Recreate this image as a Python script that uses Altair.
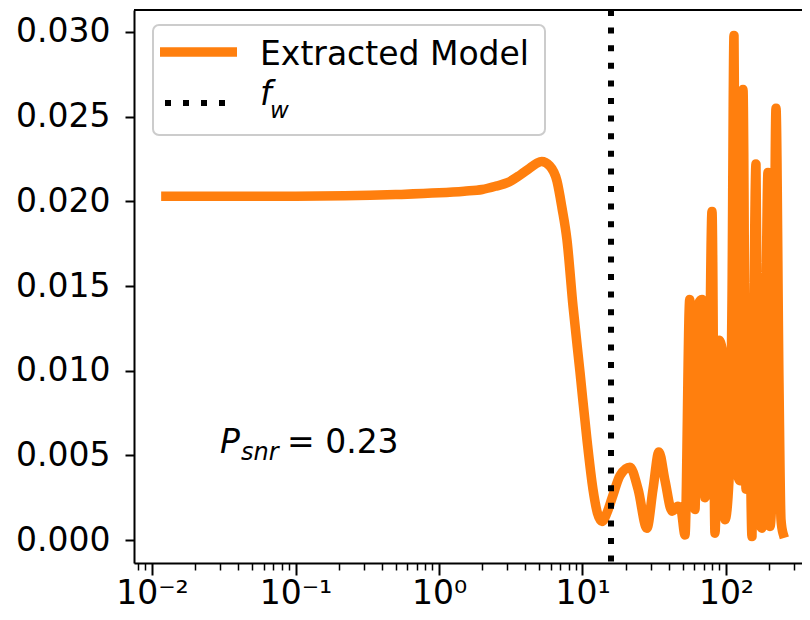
import altair as alt
import pandas as pd

# ---- data ----
freq = [0.0125, 0.1, 0.5, 1.0, 1.5, 2.0, 2.5, 3.0, 3.67, 4.2, 4.8, 5.2,
        5.9, 6.64, 7.2, 7.8, 8.59, 9.61, 10.75, 11.83, 12.7, 13.67, 14.8, 16.1, 18.25,
        21.4, 24.4, 28.1, 31.0, 34.1, 37.6, 42.1, 46.3, 48.6, 51.8, 55.9, 58.9, 60.8,
        63.8, 68.0, 71.4, 74.9, 79.9, 83.8, 89.4, 93.8, 98.4, 104.9, 110.1, 113.7,
        119.3, 125.2, 131.4, 137.9, 144.6, 151.8, 156.7, 161.8, 169.8, 178.2, 187.0,
        196.2, 202.6, 212.6, 223.1, 234.1, 241.7, 249.6]
amp = [0.0203, 0.0203, 0.0204, 0.0205, 0.0206, 0.0207, 0.0209, 0.0211,
       0.02155, 0.0219, 0.02225, 0.02235, 0.0221, 0.0212, 0.0196, 0.0177, 0.0138,
       0.0099, 0.0059, 0.0030, 0.0016, 0.0011, 0.0016, 0.0025, 0.0038, 0.0043, 0.0030,
       0.0007, 0.0030, 0.0052, 0.0035, 0.0017, 0.0020, 0.0018, 0.0003, 0.0142, 0.0065,
       0.0018, 0.0139, 0.0142, 0.0025, 0.0035, 0.0194, 0.0004, 0.0118, 0.0113, 0.0012,
       0.0035, 0.0142, 0.0298, 0.0041, 0.0035, 0.0266, 0.0030, 0.0094, 0.0002, 0.0142,
       0.0222, 0.0012, 0.0007, 0.0083, 0.0217, 0.0008, 0.0053, 0.0255, 0.0093, 0.0012,
       0.0004]
f_w = [15.8]
y_ticks = [0.0, 0.005, 0.010, 0.015, 0.020, 0.025, 0.030]
x_major = [0.01, 0.1, 1.0, 10.0, 100.0]
x_major_labels = ["10⁻²", "10⁻¹", "10⁰", "10¹", "10²"]
x_minor = [m * d for d in [0.001, 0.01, 0.1, 1.0, 10.0, 100.0] for m in range(2, 10)]
x_minor = [v for v in x_minor if 0.0075 < v < 338]
legend_labels = ["Extracted Model", "f", "w"]
annotation = ["P", "snr", "= 0.23"]

ORANGE = "#ff7f0e"
FONT = "DejaVu Sans"
FS = 33
W, H = 668, 553
x_dom = [0.007491, 338.6]
y_dom = [-0.001358, 0.031299]

df = pd.DataFrame({"f": freq, "amp": amp})
df_fw = pd.DataFrame({"f": f_w})
one = pd.DataFrame({"k": [0]})

xs = alt.Scale(type="log", domain=x_dom, nice=False)
ys = alt.Scale(domain=y_dom, nice=False, zero=False)

expr = "''"
for v, lab in reversed(list(zip(x_major, x_major_labels))):
    expr = f"abs(datum.value - {v}) < {v}*0.01 ? '{lab}' : ({expr})"

line = alt.Chart(df).mark_line(
    color=ORANGE, strokeWidth=9.5, strokeCap="square", strokeJoin="round",
    interpolate="monotone", clip=True
).encode(
    x=alt.X("f:Q", scale=xs, axis=alt.Axis(
        orient="bottom", values=x_major, labelExpr=expr, title=None, grid=False,
        tickSize=12, tickWidth=2, tickColor="black", domainColor="black", domainWidth=2,
        labelFontSize=FS, labelFont=FONT, labelColor="black", labelBaseline="alphabetic",
        labelPadding=28, labelAlign="center", labelFlush=False, labelOverlap=False)),
    y=alt.Y("amp:Q", scale=ys, axis=alt.Axis(
        values=y_ticks, format=".3f", title=None, grid=False,
        tickSize=9, tickWidth=2, tickColor="black", domainColor="black", domainWidth=2,
        labelFontSize=FS, labelFont=FONT, labelColor="black", labelPadding=15,
        labelFlush=False, labelOverlap=False)),
)

rule = alt.Chart(df_fw).mark_rule(
    color="black", strokeWidth=6, strokeDash=[6, 11.6], strokeCap="butt"
).encode(
    x=alt.X("f:Q", scale=xs, axis=alt.Axis(
        orient="bottom", values=x_minor, labels=False, domain=False, title=None,
        grid=False, tickSize=7, tickWidth=1.5, tickColor="black")),
)

top_border = alt.Chart(one).mark_rule(color="black", strokeWidth=2).encode(
    x=alt.value(0), x2=alt.value(W), y=alt.value(0))

box = alt.Chart(one).mark_rect(
    fill="white", fillOpacity=0.8, stroke="#cccccc", strokeWidth=2, cornerRadius=6
).encode(x=alt.value(19), x2=alt.value(411), y=alt.value(15), y2=alt.value(125))

leg_line = alt.Chart(one).mark_rule(color=ORANGE, strokeWidth=9.5, strokeCap="butt").encode(
    x=alt.value(26), x2=alt.value(103), y=alt.value(42))
leg_dot = alt.Chart(one).mark_rule(color="black", strokeWidth=6, strokeDash=[6, 12],
                                   strokeCap="butt").encode(
    x=alt.value(31), x2=alt.value(97), y=alt.value(93))


def txt(s, x, y, size=FS, style="normal"):
    return alt.Chart(one).mark_text(
        text=s, font=FONT, fontSize=size, fontStyle=style, color="black",
        align="left", baseline="alphabetic"
    ).encode(x=alt.value(x), y=alt.value(y))


texts = [
    txt(legend_labels[0], 126, 55),
    txt(legend_labels[1], 126, 95, FS, "italic"),
    txt(legend_labels[2], 136, 108, 23, "italic"),
    txt(annotation[0], 86, 443, FS, "italic"),
    txt(annotation[1], 107, 450, 24, "italic"),
    txt(annotation[2], 153, 443, FS),
]

chart = alt.layer(line, rule, top_border, box, leg_line, leg_dot, *texts).resolve_axis(
    x="independent"
).properties(
    width=W, height=H,
    autosize=alt.AutoSizeParams(type="none"),
    padding={"left": 126, "top": 2, "right": 0, "bottom": 49},
).configure_view(stroke=None).configure(background="white")

chart.save("out.html", embed_options={"renderer": "svg", "actions": False})
